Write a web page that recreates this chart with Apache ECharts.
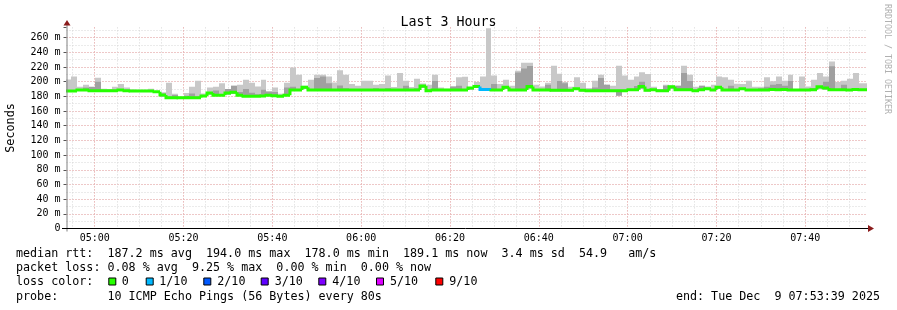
<!DOCTYPE html>
<html><head><meta charset="utf-8">
<script src="https://cdn.jsdelivr.net/npm/echarts@6/dist/echarts.min.js"></script>
<style>html,body{margin:0;padding:0;background:#fff}#c{width:897px;height:310px}</style>
</head><body><div id="c"></div>
<script>
// ---- time range (minutes since midnight) ----
const X_MIN = 293 + 39/60;   // 04:53:39
const X_MAX = 473 + 39/60;   // 07:53:39
const STEP0 = 293 + 20/60;   // first 80 s step starts 04:53:20
const STEP = 80/60;          // 80 s
const Y_MAX = 274;

// ---- per-step values (ms) ----
const med = [
187.3,187.3,188.7,188.7,187.6,187.6,187.6,187.6,187.6,188.7,
187.6,187.3,187.3,187.3,187.3,186.3,182,178.3,178.3,178.0,
178.0,178.3,178.3,180.5,184.5,181.5,181.5,184.5,185.5,181.5,
180.3,180.3,180.3,180.5,181.5,181,180.3,181.5,188.8,188.8,
192.5,188.8,188.8,188.8,188.8,188.8,188.8,188.8,188.8,188.8,
188.8,188.8,188.8,188.8,188.8,188.8,188.8,188.8,188.8,188.8,
194.0,187.8,188.8,188.8,188.8,188.8,188.8,188.8,191.5,193.5,
189.3,189.3,188.8,188.8,192.5,188.8,188.8,188.8,193.5,188.8,
188.8,188.8,188.2,188.2,188.2,188.2,190.5,188.2,187.8,187.8,
187.8,187.8,187.8,187.8,187.8,189.2,189.2,193.6,188.2,189.2,
187.8,187.8,193.0,189.2,189.2,189.2,187.8,189.2,190.5,188.8,
192.5,188.8,188.8,188.8,190.5,188.8,188.8,188.8,188.8,189.5,
189.2,189.5,188.8,188.8,188.8,188.8,189.2,193.0,191.5,189.2,
189.2,189.2,188.8,189.5,189.1,189.1];
const lo = [
186,186,187.5,187.5,186.5,186.5,186.5,186.5,186.5,187.5,
186.5,186,186,186,186,185,180,177.5,177.5,177.5,
177.5,177.5,177.5,179.5,182.5,180.5,180.5,182.5,183.5,180.5,
179.5,179.5,179.5,179.5,180.5,180,179.5,180.5,187.5,187.5,
190.5,187.5,187.5,187.5,187.5,187.5,187.5,187.5,187.5,187.5,
187.5,187.5,187.5,187.5,187.5,187.5,187.5,187.5,187.5,187.5,
191.5,186.5,187.5,187.5,187.5,187.5,187.5,187.5,189.5,191.5,
187.5,187.5,187.5,187.5,190.5,187.5,187.5,187.5,190.5,187.5,
187.5,187.5,187,187,187,187,189,187,186.5,186.5,
186.5,186.5,186.5,181,186.5,188,188,190.5,187,188,
186.5,186.5,190.5,188,188,188,186.5,188,189,187.5,
190.5,187.5,187.5,187.5,189,187.5,187.5,187.5,187.5,188,
188,188,187.5,187.5,187.5,187.5,188,190.5,189.5,188,
188,188,187.5,188,188,188];
const mid = [
188,188,190,192,193,200,189,189,189,190,
189,188,188,188,188,187,184,180,182,179,
181,184,180,181.5,186,188,182.5,190,194.5,186,
190,185,183,189,186.8,186,181,192,193,190,
194,190,205,207,198,190,195,191,190,190,
190,190,191,190,191,190,190,194.5,190,191,
195,189,201,190,190,193.6,194.5,190,191.5,194,
190,190,197,190,193,190,212.7,218,221.5,190,
190,196,190,201,198,190,191,190,189,192,
205,196,189,189,189,190,194,200,190,190,
189,194.5,193.5,194.5,211.8,201,189,194.5,191,190,
193,190,194.5,190,191,190,190,191,193,196,
197,194.5,201,190,190,190,191,194,200,221,
190,196,190,191,190,190];
const hi = [
203,207,193,196,192,205.5,190.5,190,193,197,
192,189.5,189,189,190.5,187,185.5,198.6,183.6,180,
184.5,193,201.4,184,192,193,198,190,194.5,196,
202.7,198.6,193.6,202.7,186.8,192,183.6,198.6,219.5,209.5,
194.5,202.7,209.5,209.5,207,199,215.5,209.5,197,194.5,
201.4,201.4,196,197,208.6,192.7,211.8,201.4,192.7,204,
197.7,196,209.5,192,190.5,193.6,206,206.8,191.5,199.5,
207,273,208.6,197,202.7,194.5,215,226,226,196,
193.6,198.6,221.8,211,199.5,193,206,198.6,191.4,201.4,
209.5,196,194.5,221.8,208.6,202.7,207,213,210.5,193,
190,196,195,194.5,221.8,209.5,193,194.5,193.6,196,
207,206,202.7,197.3,197,201.4,193,193,206,200.5,
207,201.4,209.5,190,207,193.6,202.7,211.8,207,227.7,
199.5,201.4,204,211.8,198,198];
// loss index per step (index into lossLabels / lossColors)
const loss = [
0,0,0,0,0,0,0,0,0,0, 0,0,0,0,0,0,0,0,0,0,
0,0,0,0,0,0,0,0,0,0, 0,0,0,0,0,0,0,0,0,0,
0,0,0,0,0,0,0,0,0,0, 0,0,0,0,0,0,0,0,0,0,
0,0,0,0,0,0,0,0,0,0, 1,1,0,0,0,0,0,0,0,0,
0,0,0,0,0,0,0,0,0,0, 0,0,0,0,0,0,0,0,0,0,
0,0,0,0,0,0,0,0,0,0, 0,0,0,0,0,0,0,0,0,0,
0,0,0,0,0,0,0,0,0,0, 0,0,0,0,0,0];

const lossLabels = ['0','1/10','2/10','3/10','4/10','5/10','9/10'];
const lossColors = ['#26ff00','#00b8ff','#0059ff','#5e00ff','#7e00ff','#dd00ff','#ff0000'];

const legendLines = [
  'median rtt:  187.2 ms avg  194.0 ms max  178.0 ms min  189.1 ms now  3.4 ms sd  54.9   am/s',
  'packet loss: 0.08 % avg  9.25 % max  0.00 % min  0.00 % now',
  'loss color:',
  'probe:       10 ICMP Echo Pings (56 Bytes) every 80s'
];
const endText = 'end: Tue Dec  9 07:53:39 2025';
const titleText = 'Last 3 Hours';
const yName = 'Seconds';
const sideText = 'RRDTOOL / TOBI OETIKER';

// ---- layout ----
const L = 66.5, R = 865.9, T = 27.4, B = 228.5;
const MONO = '"DejaVu Sans Mono", monospace';
const LEG_Y = [254, 268.2, 282, 296.5];
const SQ_X = [108.3, 145.7, 203.3, 260.7, 318.3, 376, 435.3];
const SQ_TX = [121.7, 159.3, 217.3, 274.7, 332.3, 390, 449.3];

const items = med.map((m, i) => [STEP0 + i * STEP, STEP0 + (i + 1) * STEP, lo[i], mid[i], hi[i], m, loss[i], i > 0 ? med[i - 1] : m]);

function pad(n) { return (n < 10 ? '0' : '') + n; }

function renderSmoke(params, api) {
  const a = api.coord([api.value(0), api.value(2)]);
  const b = api.coord([api.value(1), api.value(4)]);
  const c = api.coord([api.value(1), api.value(3)]);
  const x0 = Math.round(a[0]), x1 = Math.round(b[0]);
  return { type: 'group', children: [
    { type: 'rect', shape: { x: x0, y: b[1], width: x1 - x0, height: a[1] - b[1] }, style: { fill: '#c8c8c8' } },
    { type: 'rect', shape: { x: x0, y: c[1], width: x1 - x0, height: a[1] - c[1] }, style: { fill: '#a0a0a0' } }
  ] };
}
function renderMed(params, api) {
  const p0 = api.coord([api.value(0), api.value(7)]);
  const p1 = api.coord([api.value(0), api.value(5)]);
  const p2 = api.coord([api.value(1), api.value(5)]);
  const x0 = Math.round(p0[0]), x1 = Math.round(p2[0]);
  return { type: 'polyline', shape: { points: [[x0, p0[1]], [x0, p1[1]], [x1, p2[1]]] },
    style: { stroke: lossColors[api.value(6)], lineWidth: 3, fill: null, lineJoin: 'miter', lineCap: 'butt' } };
}

const graphics = [];
graphics.push({ type: 'text', x: 11, y: (T + B) / 2, rotation: Math.PI / 2,
  style: { text: yName, font: '11.8px ' + MONO, fill: '#000', textAlign: 'center', textVerticalAlign: 'middle' } });
graphics.push({ type: 'text', x: 887.5, y: 59, rotation: -Math.PI / 2,
  style: { text: sideText, font: '8.3px ' + MONO, fill: '#b0b0b0', textAlign: 'center', textVerticalAlign: 'middle' } });
legendLines.forEach((t, i) => graphics.push({ type: 'text', x: 16, y: LEG_Y[i],
  style: { text: t, font: '11.7px ' + MONO, fill: '#000', textAlign: 'left', textVerticalAlign: 'middle' } }));
graphics.push({ type: 'text', x: 880, y: LEG_Y[3],
  style: { text: endText, font: '11.7px ' + MONO, fill: '#000', textAlign: 'right', textVerticalAlign: 'middle' } });
lossLabels.forEach((t, i) => {
  graphics.push({ type: 'rect', shape: { x: SQ_X[i] + 0.5, y: LEG_Y[2] - 4, width: 7, height: 7 },
    style: { fill: lossColors[i], stroke: '#000', lineWidth: 1 } });
  graphics.push({ type: 'text', x: SQ_TX[i], y: LEG_Y[2],
    style: { text: t, font: '11.7px ' + MONO, fill: '#000', textAlign: 'left', textVerticalAlign: 'middle' } });
});
// axis lines and arrows
graphics.push({ type: 'line', z: 10, shape: { x1: 67, y1: 231.5, x2: 67, y2: 24 }, style: { stroke: '#808080', lineWidth: 1 } });
graphics.push({ type: 'line', z: 10, shape: { x1: 62, y1: 228.5, x2: 869, y2: 228.5 }, style: { stroke: '#000', lineWidth: 1 } });
graphics.push({ type: 'polygon', z: 11, shape: { points: [[67, 20], [63.5, 25.5], [70.5, 25.5]] }, style: { fill: '#8b1c1c' } });
graphics.push({ type: 'polygon', z: 11, shape: { points: [[874, 228.5], [868, 225], [868, 232]] }, style: { fill: '#8b1c1c' } });

const xLabel = v => {
  const r = Math.round(v);
  if (Math.abs(v - r) > 1e-6 || r % 20 !== 0) return '';
  return pad(Math.floor(r / 60)) + ':' + pad(r % 60);
};
const yLabel = v => (Math.abs(v % 20) > 1e-6 ? '' : (v === 0 ? '0' : v + ' m'));

const chart = echarts.init(document.getElementById('c'), null, { renderer: 'canvas' });
chart.setOption({
  animation: false,
  backgroundColor: '#ffffff',
  title: { text: titleText, left: 'center', top: 11,
    textStyle: { fontFamily: MONO, fontSize: 13.3, fontWeight: 'normal', color: '#000' } },
  grid: { left: L, top: T, right: 897 - R, bottom: 310 - B },
  xAxis: [
    { type: 'value', min: X_MIN, max: X_MAX, splitNumber: 36,
      axisLine: { show: false }, axisTick: { show: false }, axisLabel: { show: false },
      splitLine: { show: true, showMinLine: false, showMaxLine: false, lineStyle: { color: '#d6d6d6', type: [1, 2], width: 1 } } },
    { type: 'value', min: X_MIN, max: X_MAX, splitNumber: 9, position: 'bottom',
      axisLine: { show: false }, axisTick: { show: false },
      axisLabel: { formatter: xLabel, fontFamily: MONO, fontSize: 10, color: '#000', margin: 5, showMinLabel: true, showMaxLabel: true },
      splitLine: { show: true, showMinLine: false, showMaxLine: false, lineStyle: { color: '#f0a4a4', type: [1, 2], width: 1 } } }
  ],
  yAxis: [
    { type: 'value', min: 0, max: Y_MAX, interval: 10, position: 'left',
      axisLine: { show: false }, axisTick: { show: false }, axisLabel: { show: false },
      splitLine: { show: true, showMinLine: false, showMaxLine: false, lineStyle: { color: '#d6d6d6', type: [1, 2], width: 1 } } },
    { type: 'value', min: 0, max: Y_MAX, interval: 20, position: 'left',
      axisLine: { show: false }, axisTick: { show: true, length: 3, inside: false, lineStyle: { color: '#555' } },
      axisLabel: { formatter: yLabel, fontFamily: MONO, fontSize: 10, color: '#000', margin: 6 },
      splitLine: { show: true, showMinLine: false, showMaxLine: false, lineStyle: { color: '#f0a4a4', type: [1, 2], width: 1 } } }
  ],
  series: [
    { type: 'custom', name: 'smoke', xAxisIndex: 0, yAxisIndex: 0, clip: true, z: 2,
      renderItem: renderSmoke, encode: { x: [0, 1], y: [2, 4] }, data: items },
    { type: 'custom', name: 'median', xAxisIndex: 0, yAxisIndex: 0, clip: true, z: 3,
      renderItem: renderMed, encode: { x: [0, 1], y: [5, 7] }, data: items }
  ],
  graphic: graphics
});
</script>
</body></html>
